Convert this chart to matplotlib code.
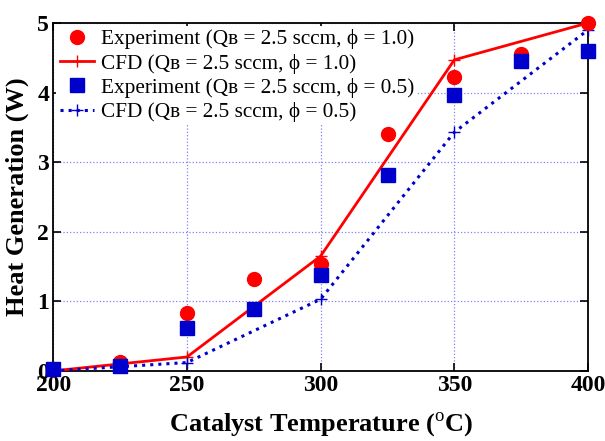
import matplotlib
matplotlib.use("Agg")
import matplotlib.pyplot as plt

temps = [200, 225, 250, 275, 300, 325, 350, 375, 400]
exp_phi10 = [0.02, 0.13, 0.83, 1.32, 1.54, 3.40, 4.23, 4.55, 5.00]
exp_phi05 = [0.03, 0.07, 0.62, 0.89, 1.38, 2.81, 3.96, 4.45, 4.60]
cfd_temps = [200, 250, 300, 350, 400]
cfd_phi10 = [0.00, 0.20, 1.65, 4.47, 5.00]
cfd_phi05 = [0.00, 0.12, 1.03, 3.43, 4.90]

xticks = [200, 250, 300, 350, 400]
yticks = [0, 1, 2, 3, 4, 5]

plt.rcParams['font.family'] = ['Liberation Serif', 'DejaVu Serif']
plt.rcParams['mathtext.fontset'] = 'custom'
plt.rcParams['mathtext.rm'] = 'Liberation Serif'
plt.rcParams['mathtext.bf'] = 'Liberation Serif:bold'

fig = plt.figure(figsize=(6.05, 4.41), dpi=100)
ax = fig.add_axes([0.088, 0.159, 0.884, 0.789])

lab = lambda kind, phi: f"{kind} (Qʙ = 2.5 sccm, ϕ = {phi})"

ax.plot(temps, exp_phi10, 'o', color='#ff0000', markersize=10, label=lab('Experiment', '1.0'), clip_on=False, zorder=4)
ax.plot(cfd_temps, cfd_phi10, '-', color='#ff0000', lw=2.0, marker='+', markersize=9, mew=1.0, label=lab('CFD', '1.0'), clip_on=False, zorder=3)
ax.plot(temps, exp_phi05, 's', color='#0000cc', markersize=9.5, label=lab('Experiment', '0.5'), clip_on=False, zorder=5)
ax.plot(cfd_temps, cfd_phi05, ':', color='#0000cc', lw=2.2, marker='+', markersize=9, mew=1.0, label=lab('CFD', '0.5'), clip_on=False, zorder=3)

ax.set_xlim(200, 400)
ax.set_ylim(0, 5)
ax.set_xticks(xticks)
ax.set_yticks(yticks)
ax.tick_params(direction='in', length=6, width=1.2, top=True, right=True, labelsize=17, pad=3)
for t in ax.get_xticklabels() + ax.get_yticklabels():
    t.set_fontweight('bold')
for s in ax.spines.values():
    s.set_linewidth(1.3)
ax.grid(True, color='#8080ff', linestyle=':', linewidth=0.9)
ax.set_axisbelow(True)

ax.set_xlabel('Catalyst Temperature ($^\\mathrm{o}$C)', fontsize=19, fontweight='bold', labelpad=10)
ax.set_ylabel('Heat Generation (W)', fontsize=19, fontweight='bold', labelpad=6)

leg = ax.legend(loc='upper left', fontsize=15.3, frameon=True, framealpha=1.0, facecolor='white',
                edgecolor='none', borderpad=0.15, labelspacing=0.2, handlelength=1.6,
                handletextpad=0.35, borderaxespad=0.15, fancybox=False)
leg.set_zorder(2)

fig.savefig('out.png', dpi=100)
